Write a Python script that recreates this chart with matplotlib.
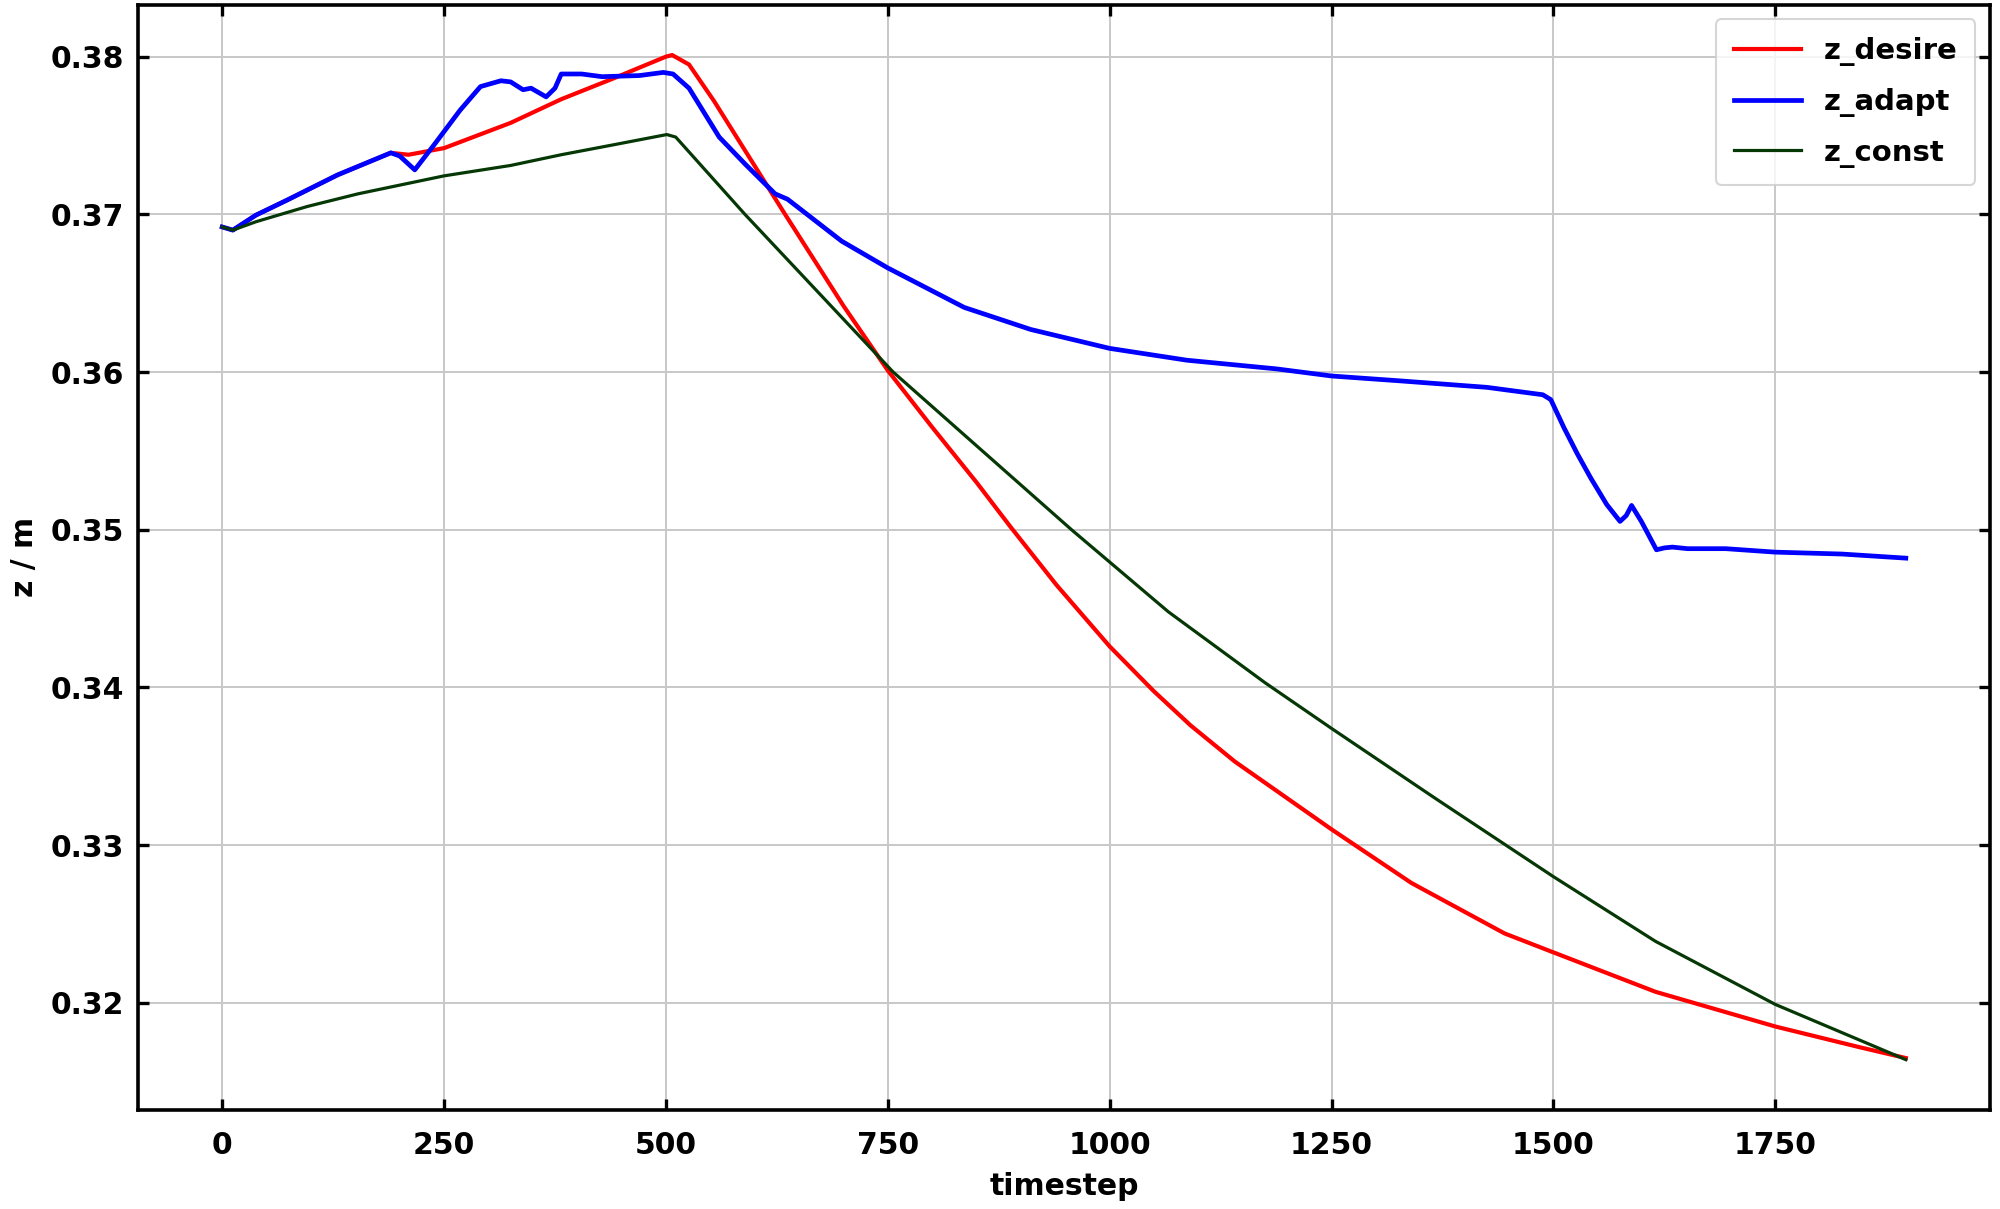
"""z trajectory comparison: desired vs adaptive vs constant."""
import numpy as np
import matplotlib
matplotlib.use('Agg')
import matplotlib.pyplot as plt

plt.rcParams['font.family'] = 'DejaVu Sans'
plt.rcParams['font.size'] = 21.5
plt.rcParams['font.weight'] = 'bold'
plt.rcParams['axes.labelweight'] = 'bold'

# z_desire
t_desire = [0, 12, 38, 73, 130, 160, 190, 210, 250, 325, 382, 440, 500, 507, 526, 554,
            632, 700, 750, 800, 850, 888, 940, 1000, 1049, 1091, 1141, 1250, 1340,
            1445, 1500, 1615, 1750, 1844, 1897]
z_desire = [0.3692, 0.3690, 0.36995, 0.3709, 0.3725, 0.3732, 0.3739, 0.37378, 0.3742,
            0.3758, 0.3773, 0.3786, 0.3800, 0.3801, 0.3795, 0.3772, 0.3702, 0.3642,
            0.3601, 0.3565, 0.3530, 0.3502, 0.3465, 0.3426, 0.3398, 0.3376, 0.3353,
            0.3310, 0.3276, 0.3244, 0.3232, 0.3207, 0.3185, 0.3172, 0.3165]

# z_adapt
t_adapt = [0, 12, 38, 73, 130, 160, 190, 200, 217, 240, 268, 291, 314, 325, 339, 348,
           365, 375, 382, 405, 428, 470, 497, 508, 526, 560, 589, 623, 637, 698, 750,
           836, 911, 1000, 1087, 1188, 1250, 1325, 1425, 1488, 1497, 1512, 1527, 1542,
           1560, 1575, 1582, 1588, 1599, 1616, 1625, 1634, 1651, 1694, 1750, 1825, 1897]
z_adapt = [0.3692, 0.3690, 0.36995, 0.3709, 0.3725, 0.3732, 0.3739, 0.3737, 0.37282,
           0.3745, 0.3766, 0.3781, 0.37847, 0.3784, 0.3779, 0.3780, 0.37745, 0.3780,
           0.3789, 0.3789, 0.37873, 0.3788, 0.3790, 0.3789, 0.3780, 0.3749, 0.3732,
           0.3713, 0.37096, 0.3683, 0.3666, 0.3641, 0.3627, 0.3615, 0.36075, 0.3602,
           0.35975, 0.35945, 0.35903, 0.35856, 0.35825, 0.35645, 0.3548, 0.35328,
           0.3516, 0.35053, 0.3509, 0.35154, 0.35053, 0.34873, 0.34885, 0.3489, 0.3488,
           0.3488, 0.34858, 0.34846, 0.3482]

# z_const
t_const = [0, 12, 38, 96, 153, 250, 325, 382, 440, 501, 511, 589, 756, 957, 1066,
           1175, 1250, 1366, 1500, 1615, 1750, 1897]
z_const = [0.3692, 0.3690, 0.36953, 0.3705, 0.3713, 0.37244, 0.3731, 0.37378, 0.3744,
           0.37506, 0.3749, 0.3700, 0.3600, 0.3500, 0.3448, 0.3403, 0.3374, 0.3330,
           0.3280, 0.3239, 0.3199, 0.3164]

fig, ax = plt.subplots(figsize=(20, 12.09), dpi=100)
fig.subplots_adjust(left=0.069, right=0.995, top=0.996, bottom=0.082)

ax.plot(t_desire, z_desire, color='#ff0000', linewidth=3.0, label='z_desire')
ax.plot(t_adapt, z_adapt, color='#0000ff', linewidth=3.4, label='z_adapt')
ax.plot(t_const, z_const, color='#063806', linewidth=2.3, label='z_const')

ax.set_xticks([0, 250, 500, 750, 1000, 1250, 1500, 1750])
ax.set_yticks([0.32, 0.33, 0.34, 0.35, 0.36, 0.37, 0.38])
ax.set_xlabel('timestep', labelpad=9)
ax.set_ylabel('z / m', labelpad=8)
ax.grid(True, color='#c8c8c8', linewidth=1.4)
ax.tick_params(direction='in', top=True, right=True, length=8, width=2.4, pad=10)
ax.tick_params(axis='x', pad=15)
for s in ax.spines.values():
    s.set_linewidth(2.6)

leg = ax.legend(loc='upper right', fontsize=21, handlelength=2.3,
                labelspacing=0.75, borderpad=0.6)
leg.get_frame().set_linewidth(1.5)

fig.savefig('out.png', dpi=100)
